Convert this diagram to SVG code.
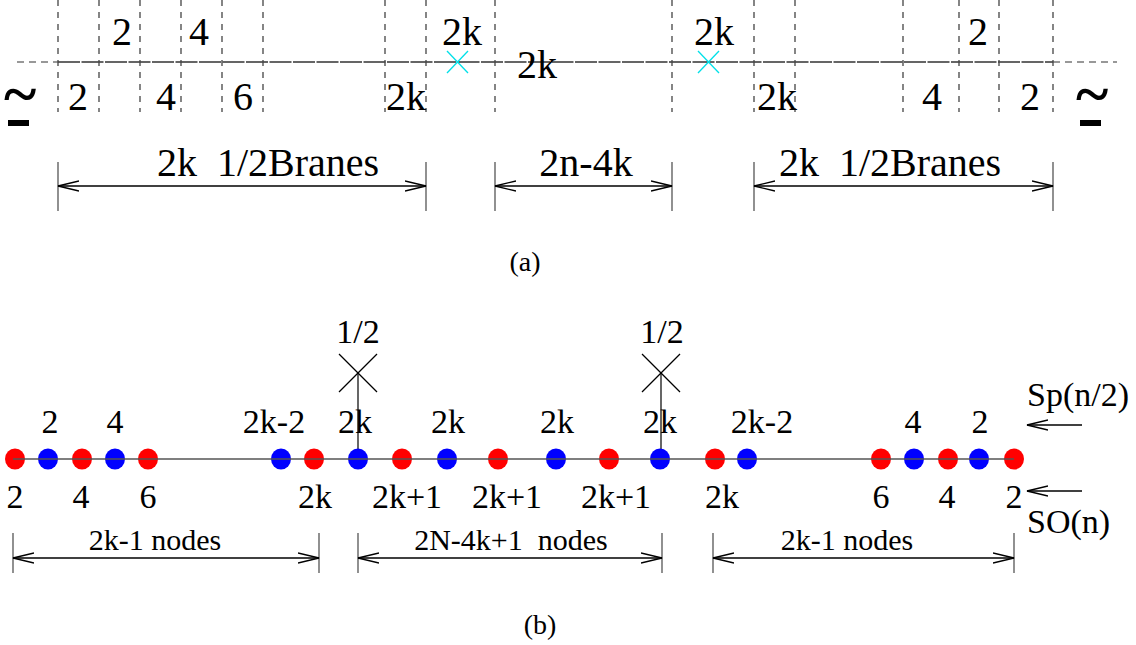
<svg xmlns="http://www.w3.org/2000/svg" width="1136" height="645" viewBox="0 0 1136 645">
<style>
text{font-family:"Liberation Serif","Times New Roman",serif;fill:#000;text-anchor:middle}
.la{font-size:40px}
.lb{font-size:34px}
.ln{font-size:30px}
.cap{font-size:28px}
.tl{font-size:62px;font-weight:bold}
.vd{stroke:#444;stroke-width:1.3;stroke-dasharray:6,6;fill:none}
.hd{stroke:#777;stroke-width:1.5;stroke-dasharray:7,5;fill:none}
.hs{stroke:#333;stroke-width:1.7;stroke-dasharray:22,1.5;fill:none}
.tick{stroke:#555;stroke-width:1.3}
.dim{stroke:#000;stroke-width:1.3;fill:none;marker-start:url(#ah);marker-end:url(#ah)}
.x{stroke:#00e0e8;stroke-width:1.3}
.xb{stroke:#000;stroke-width:1.2}
.main{stroke:#555;stroke-width:1.6}
.r{fill:#ff0000}
.b{fill:#0000ff}
.arr{stroke:#000;stroke-width:1.3;marker-start:url(#ah)}
</style>
<defs>
<marker id="ah" viewBox="0 0 22 12" refX="21" refY="6" markerWidth="22" markerHeight="12" markerUnits="userSpaceOnUse" orient="auto-start-reverse">
<path d="M0,1 L21,6 L0,11" fill="none" stroke="#000" stroke-width="1.3"/>
</marker>
</defs>

<g id="part-a">
<g id="grid-a">
<line class="hd" x1="17" y1="62" x2="58" y2="62"/>
<line class="hs" x1="58" y1="62" x2="1053" y2="62"/>
<line class="hd" x1="1053" y1="62" x2="1117" y2="62"/>
<line class="vd" x1="58" y1="0" x2="58" y2="112"/>
<line class="vd" x1="99" y1="0" x2="99" y2="112"/>
<line class="vd" x1="140" y1="0" x2="140" y2="112"/>
<line class="vd" x1="181" y1="0" x2="181" y2="112"/>
<line class="vd" x1="222" y1="0" x2="222" y2="112"/>
<line class="vd" x1="263" y1="0" x2="263" y2="112"/>
<line class="vd" x1="385" y1="0" x2="385" y2="112"/>
<line class="vd" x1="426" y1="0" x2="426" y2="112"/>
<line class="vd" x1="495" y1="0" x2="495" y2="112"/>
<line class="vd" x1="672" y1="0" x2="672" y2="112"/>
<line class="vd" x1="754" y1="0" x2="754" y2="112"/>
<line class="vd" x1="795" y1="0" x2="795" y2="112"/>
<line class="vd" x1="903" y1="0" x2="903" y2="112"/>
<line class="vd" x1="959" y1="0" x2="959" y2="112"/>
<line class="vd" x1="999" y1="0" x2="999" y2="112"/>
<line class="vd" x1="1053" y1="0" x2="1053" y2="112"/>
</g>
<g id="crosses-a">
<line class="x" x1="447" y1="51" x2="468" y2="73"/><line class="x" x1="468" y1="51" x2="447" y2="73"/>
<line class="x" x1="698" y1="51" x2="719" y2="73"/><line class="x" x1="719" y1="51" x2="698" y2="73"/>
</g>
<g id="labels-a">
<text class="la" x="122" y="45">2</text>
<text class="la" x="199" y="45">4</text>
<text class="la" x="462" y="45">2k</text>
<text class="la" x="537" y="78">2k</text>
<text class="la" x="714" y="45">2k</text>
<text class="la" x="978" y="45">2</text>
<text class="la" x="78" y="110">2</text>
<text class="la" x="166" y="110">4</text>
<text class="la" x="243" y="110">6</text>
<text class="la" x="406" y="110">2k</text>
<text class="la" x="777" y="110">2k</text>
<text class="la" x="932" y="110">4</text>
<text class="la" x="1030" y="110">2</text>
<text class="tl" x="20" y="114">~</text>
<rect x="8" y="120" width="21" height="6" fill="#000"/>
<text class="tl" x="1092" y="114">~</text>
<rect x="1080" y="120" width="21" height="6" fill="#000"/>
</g>
<g id="dims-a">
<line class="tick" x1="58" y1="162" x2="58" y2="211"/>
<line class="tick" x1="426" y1="162" x2="426" y2="211"/>
<line class="tick" x1="495" y1="162" x2="495" y2="211"/>
<line class="tick" x1="672" y1="162" x2="672" y2="211"/>
<line class="tick" x1="754" y1="162" x2="754" y2="211"/>
<line class="tick" x1="1053" y1="162" x2="1053" y2="211"/>
<line class="dim" x1="58" y1="186" x2="426" y2="186"/>
<line class="dim" x1="495" y1="186" x2="672" y2="186"/>
<line class="dim" x1="754" y1="186" x2="1053" y2="186"/>
<text class="la" x="268" y="176" xml:space="preserve">2k  1/2Branes</text>
<text class="la" x="586" y="176">2n-4k</text>
<text class="la" x="890" y="176" xml:space="preserve">2k  1/2Branes</text>
</g>
<text class="cap" x="525" y="271">(a)</text>
</g>

<g id="part-b">
<g id="connectors">
<line class="xb" x1="358" y1="373" x2="358" y2="459"/>
<line class="xb" x1="661" y1="373" x2="661" y2="459"/>
<line class="xb" x1="339" y1="354" x2="377" y2="392"/><line class="xb" x1="377" y1="354" x2="339" y2="392"/>
<line class="xb" x1="642" y1="354" x2="680" y2="392"/><line class="xb" x1="680" y1="354" x2="642" y2="392"/>
<line class="arr" x1="1027" y1="425" x2="1082" y2="425"/>
<line class="arr" x1="1027" y1="491" x2="1082" y2="491"/>
</g>
<g id="nodes">
<ellipse id="n1" class="r" cx="15" cy="459" rx="10" ry="10.5"/>
<ellipse id="n2" class="b" cx="48" cy="459" rx="10" ry="10.5"/>
<ellipse id="n3" class="r" cx="82" cy="459" rx="10" ry="10.5"/>
<ellipse id="n4" class="b" cx="115" cy="459" rx="10" ry="10.5"/>
<ellipse id="n5" class="r" cx="148" cy="459" rx="10" ry="10.5"/>
<ellipse id="n6" class="b" cx="281" cy="459" rx="10" ry="10.5"/>
<ellipse id="n7" class="r" cx="314" cy="459" rx="10" ry="10.5"/>
<ellipse id="n8" class="b" cx="358" cy="459" rx="10" ry="10.5"/>
<ellipse id="n9" class="r" cx="402" cy="459" rx="10" ry="10.5"/>
<ellipse id="n10" class="b" cx="447" cy="459" rx="10" ry="10.5"/>
<ellipse id="n11" class="r" cx="498" cy="459" rx="10" ry="10.5"/>
<ellipse id="n12" class="b" cx="556" cy="459" rx="10" ry="10.5"/>
<ellipse id="n13" class="r" cx="609" cy="459" rx="10" ry="10.5"/>
<ellipse id="n14" class="b" cx="660" cy="459" rx="10" ry="10.5"/>
<ellipse id="n15" class="r" cx="715" cy="459" rx="10" ry="10.5"/>
<ellipse id="n16" class="b" cx="747" cy="459" rx="10" ry="10.5"/>
<ellipse id="n17" class="r" cx="881" cy="459" rx="10" ry="10.5"/>
<ellipse id="n18" class="b" cx="914" cy="459" rx="10" ry="10.5"/>
<ellipse id="n19" class="r" cx="948" cy="459" rx="10" ry="10.5"/>
<ellipse id="n20" class="b" cx="979" cy="459" rx="10" ry="10.5"/>
<ellipse id="n21" class="r" cx="1014" cy="459" rx="10" ry="10.5"/>
</g>
<g id="chain-line">
<line class="main" x1="13" y1="459" x2="1014" y2="459"/>
</g>
<g id="labels-b">
<text class="lb" x="358" y="343">1/2</text>
<text class="lb" x="662" y="343">1/2</text>
<text class="lb" x="50" y="433">2</text>
<text class="lb" x="115" y="433">4</text>
<text class="lb" x="274" y="433">2k-2</text>
<text class="lb" x="355" y="433">2k</text>
<text class="lb" x="448" y="433">2k</text>
<text class="lb" x="557" y="433">2k</text>
<text class="lb" x="660" y="433">2k</text>
<text class="lb" x="762" y="433">2k-2</text>
<text class="lb" x="913" y="433">4</text>
<text class="lb" x="980" y="433">2</text>
<text class="lb" x="15" y="508">2</text>
<text class="lb" x="81" y="508">4</text>
<text class="lb" x="148" y="508">6</text>
<text class="lb" x="315" y="508">2k</text>
<text class="lb" x="407" y="508">2k+1</text>
<text class="lb" x="507" y="508">2k+1</text>
<text class="lb" x="616" y="508">2k+1</text>
<text class="lb" x="722" y="508">2k</text>
<text class="lb" x="881" y="508">6</text>
<text class="lb" x="947" y="508">4</text>
<text class="lb" x="1014" y="508">2</text>
<text class="lb" x="1027" y="406" style="text-anchor:start">Sp(n/2)</text>
<text class="lb" x="1027" y="533" style="text-anchor:start">SO(n)</text>
</g>
<g id="dims-b">
<line class="tick" x1="13" y1="533" x2="13" y2="573"/>
<line class="tick" x1="319" y1="533" x2="319" y2="573"/>
<line class="tick" x1="358" y1="533" x2="358" y2="573"/>
<line class="tick" x1="662" y1="533" x2="662" y2="573"/>
<line class="tick" x1="713" y1="533" x2="713" y2="573"/>
<line class="tick" x1="1014" y1="533" x2="1014" y2="573"/>
<line class="dim" x1="13" y1="558" x2="319" y2="558"/>
<line class="dim" x1="358" y1="558" x2="662" y2="558"/>
<line class="dim" x1="713" y1="558" x2="1014" y2="558"/>
<text class="ln" x="155" y="550">2k-1 nodes</text>
<text class="ln" x="511" y="550" xml:space="preserve">2N-4k+1  nodes</text>
<text class="ln" x="847" y="550">2k-1 nodes</text>
</g>
<text class="cap" x="540" y="634">(b)</text>
</g>
</svg>
